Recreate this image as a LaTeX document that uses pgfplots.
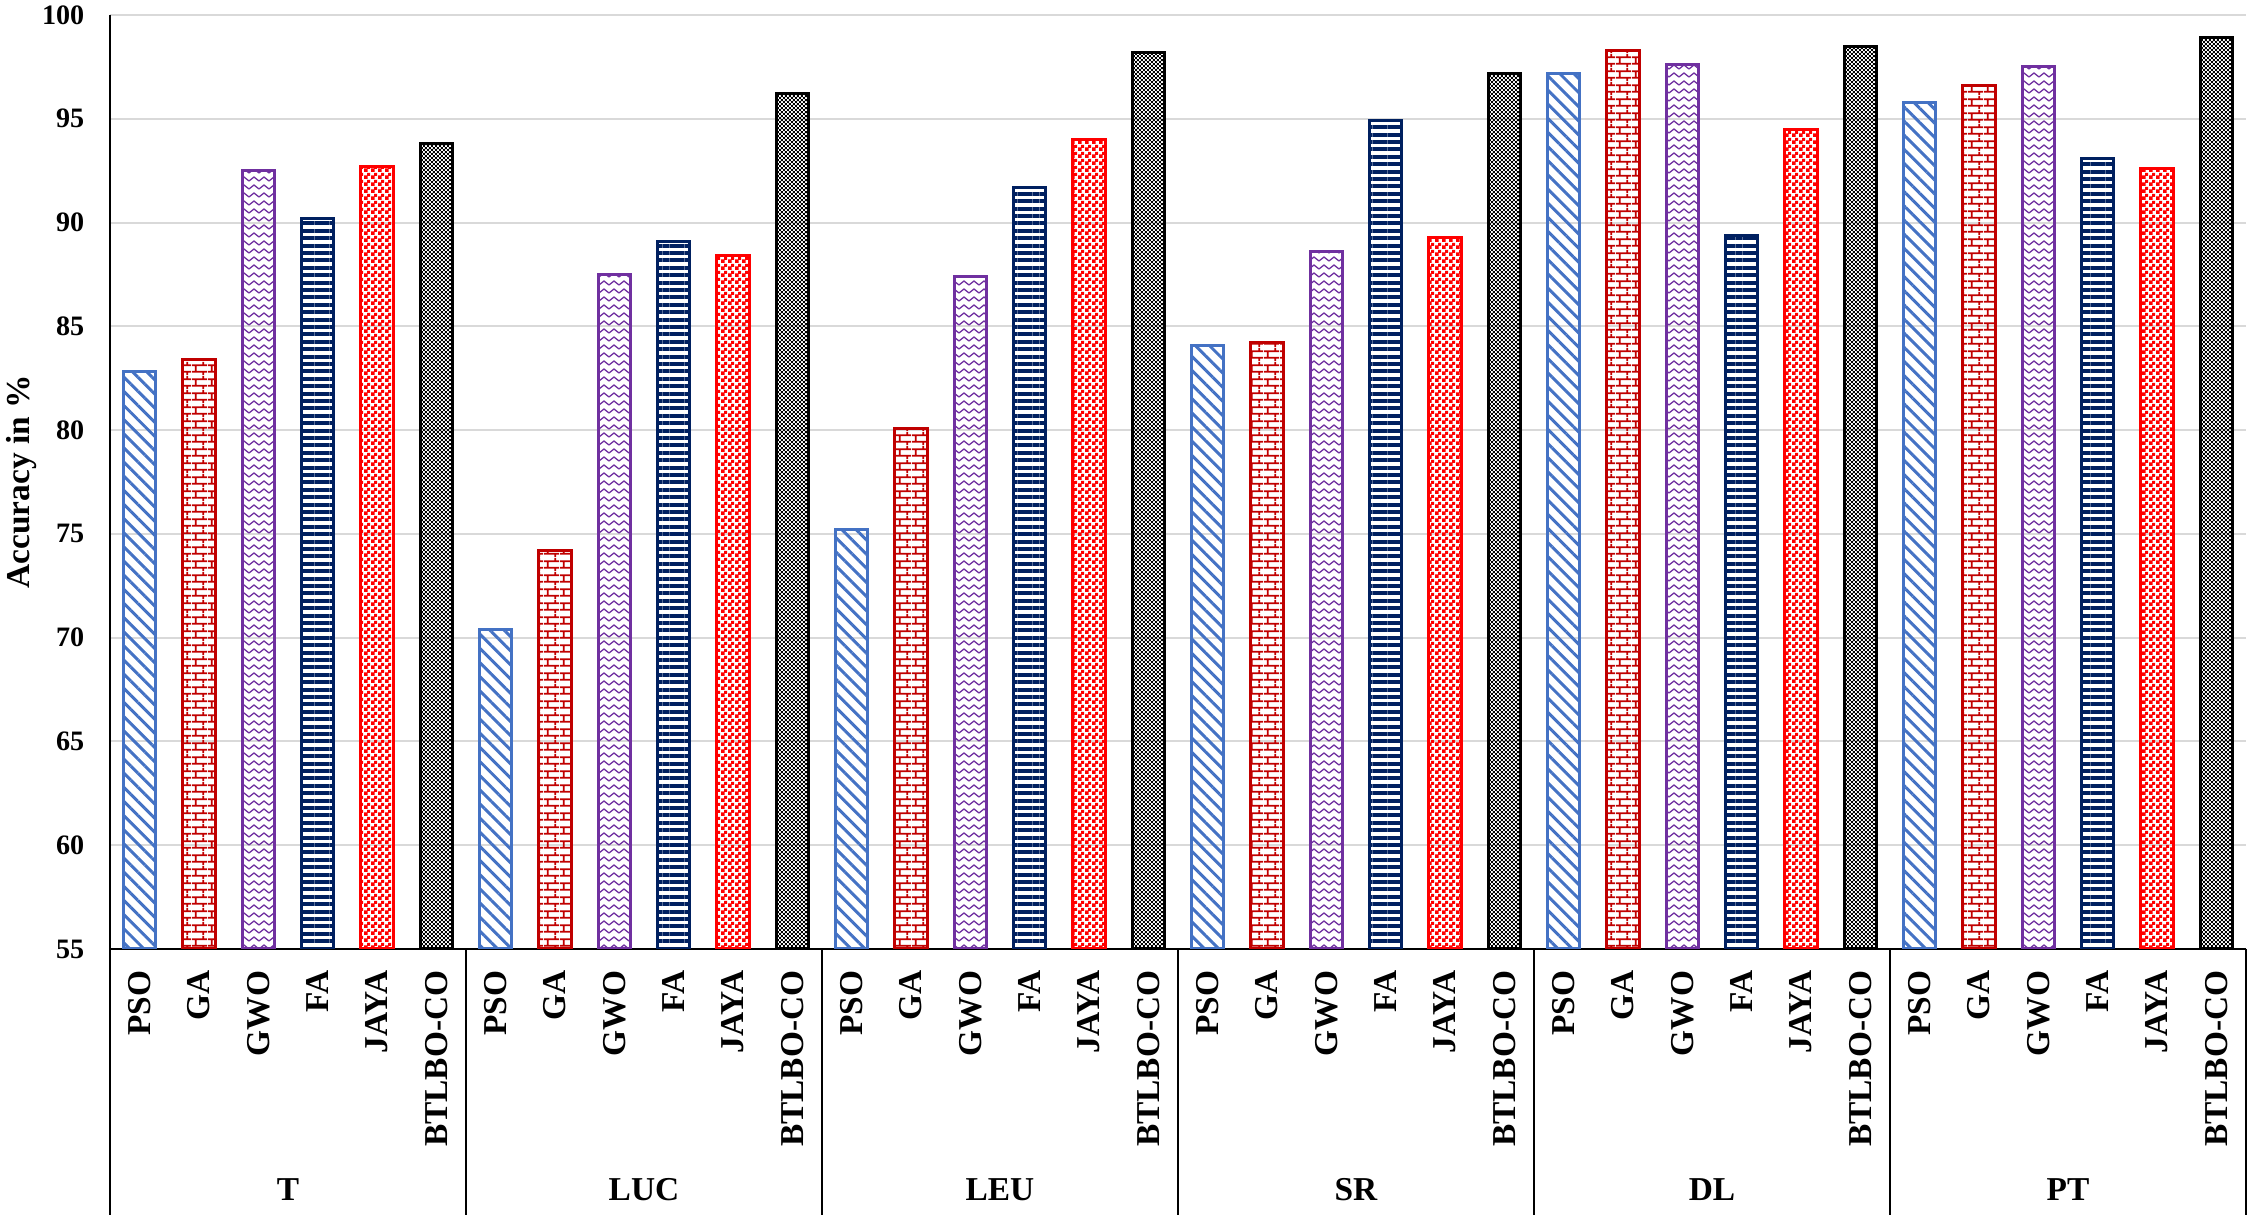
\documentclass[border=0pt]{standalone}
\usepackage{fontspec}
\setmainfont{Liberation Serif}
\usepackage{pgfplots}
\pgfplotsset{compat=1.18}
\usetikzlibrary{patterns,patterns.meta}

\definecolor{psoblue}{HTML}{4472C4}
\definecolor{gared}{HTML}{C00000}
\definecolor{gwopurple}{HTML}{7030A0}
\definecolor{fanavy}{HTML}{002060}
\definecolor{jayared}{HTML}{FF0000}
\definecolor{gridgray}{HTML}{D9D9D9}

% brick pattern for GA
\pgfdeclarepatternformonly{bricksx}{\pgfpointorigin}{\pgfpoint{1.6mm}{1.4mm}}{\pgfpoint{1.6mm}{1.4mm}}{
  \pgfsetlinewidth{0.2mm}
  \pgfpathmoveto{\pgfpoint{0mm}{0.35mm}}\pgfpathlineto{\pgfpoint{1.6mm}{0.35mm}}
  \pgfpathmoveto{\pgfpoint{0mm}{1.05mm}}\pgfpathlineto{\pgfpoint{1.6mm}{1.05mm}}
  \pgfpathmoveto{\pgfpoint{0.4mm}{0.35mm}}\pgfpathlineto{\pgfpoint{0.4mm}{1.05mm}}
  \pgfpathmoveto{\pgfpoint{1.2mm}{1.05mm}}\pgfpathlineto{\pgfpoint{1.2mm}{1.4mm}}
  \pgfpathmoveto{\pgfpoint{1.2mm}{0mm}}\pgfpathlineto{\pgfpoint{1.2mm}{0.35mm}}
  \pgfusepath{stroke}
}
% zigzag for GWO
\pgfdeclarepatternformonly{zigzagx}{\pgfpointorigin}{\pgfpoint{1mm}{0.8mm}}{\pgfpoint{1mm}{0.8mm}}{
  \pgfsetlinewidth{0.13mm}
  \pgfpathmoveto{\pgfpoint{0mm}{0.2mm}}
  \pgfpathlineto{\pgfpoint{0.5mm}{0.6mm}}
  \pgfpathlineto{\pgfpoint{1mm}{0.2mm}}
  \pgfusepath{stroke}
}
% checker for JAYA
\pgfdeclarepatternformonly{checkA}{\pgfpointorigin}{\pgfpoint{0.7mm}{0.7mm}}{\pgfpoint{0.7mm}{0.7mm}}{
  \pgfpathrectangle{\pgfpointorigin}{\pgfpoint{0.4mm}{0.4mm}}
  \pgfpathrectangle{\pgfpoint{0.35mm}{0.35mm}}{\pgfpoint{0.35mm}{0.35mm}}
  \pgfusepath{fill}
}
% fine checker for BTLBO-CO
\pgfdeclarepatternformonly{checkB}{\pgfpointorigin}{\pgfpoint{0.4mm}{0.4mm}}{\pgfpoint{0.4mm}{0.4mm}}{
  \pgfpathrectangle{\pgfpointorigin}{\pgfpoint{0.2mm}{0.2mm}}
  \pgfpathrectangle{\pgfpoint{0.2mm}{0.2mm}}{\pgfpoint{0.2mm}{0.2mm}}
  \pgfusepath{fill}
}

\begin{document}
\begin{tikzpicture}
\useasboundingbox (-11mm,-26.6mm) rectangle (214mm,94.9mm);
\begin{axis}[
  scale only axis,
  width=213.6mm, height=93.4mm,
  xmin=-0.5, xmax=35.5,
  ymin=55, ymax=100,
  ytick={55,60,...,100},
  xtick={0,...,35},
  xticklabels={PSO,GA,GWO,FA,JAYA,BTLBO-CO,PSO,GA,GWO,FA,JAYA,BTLBO-CO,
    PSO,GA,GWO,FA,JAYA,BTLBO-CO,PSO,GA,GWO,FA,JAYA,BTLBO-CO,
    PSO,GA,GWO,FA,JAYA,BTLBO-CO,PSO,GA,GWO,FA,JAYA,BTLBO-CO},
  axis lines=left,
  axis line style={-, line width=0.6pt, black},
  major tick length=0pt,
  ymajorgrids,
  grid style={line width=0.2mm, gridgray},
  clip mode=individual,
  /pgf/number format/assume math mode=true,
  yticklabel style={font=\bfseries\fontsize{8}{9}\selectfont, anchor=east, inner sep=0pt, xshift=-2.5mm},
  xticklabel style={font=\bfseries\fontsize{9.5}{11}\selectfont, yshift=-2.1mm, rotate=90, anchor=east, inner sep=0pt},
  ylabel={Accuracy in \%},
  every axis y label/.style={at={([xshift=-8.8mm]axis description cs:0,0.5)}, rotate=90, anchor=center, font=\bfseries\fontsize{9.5}{11}\selectfont},
  every axis plot/.append style={ybar, bar width=0.54, bar shift=0pt, line width=0.3mm},
]
% PSO
\addplot[draw=psoblue, pattern={Lines[angle=-45,distance=1mm,line width=0.3mm]}, pattern color=psoblue]
  coordinates {(0,82.8) (6,70.4) (12,75.2) (18,84.1) (24,97.2) (30,95.8)};
% GA
\addplot[draw=gared, pattern=bricksx, pattern color=gared]
  coordinates {(1,83.4) (7,74.2) (13,80.1) (19,84.2) (25,98.3) (31,96.6)};
% GWO
\addplot[draw=gwopurple, pattern=zigzagx, pattern color=gwopurple]
  coordinates {(2,92.5) (8,87.5) (14,87.4) (20,88.6) (26,97.6) (32,97.5)};
% FA
\addplot[draw=fanavy, pattern={Lines[angle=0,distance=0.74mm,line width=0.4mm]}, pattern color=fanavy]
  coordinates {(3,90.2) (9,89.1) (15,91.7) (21,94.9) (27,89.4) (33,93.1)};
% JAYA
\addplot[draw=jayared, pattern=checkA, pattern color=jayared]
  coordinates {(4,92.7) (10,88.4) (16,94.0) (22,89.3) (28,94.5) (34,92.6)};
% BTLBO-CO
\addplot[draw=black, pattern=checkB, pattern color=black]
  coordinates {(5,93.8) (11,96.2) (17,98.2) (23,97.2) (29,98.5) (35,98.9)};

\pgfplotsinvokeforeach{0,...,6}{
  \draw[line width=0.6pt] (axis cs:{6*#1-0.5},55) -- ++(0pt,-26.6mm);
}
\tikzset{grp/.style={font=\bfseries\fontsize{9.5}{11}\selectfont, yshift=-24.1mm}}
\node[grp] at (axis cs:2.5,55) {T};
\node[grp] at (axis cs:8.5,55) {LUC};
\node[grp] at (axis cs:14.5,55) {LEU};
\node[grp] at (axis cs:20.5,55) {SR};
\node[grp] at (axis cs:26.5,55) {DL};
\node[grp] at (axis cs:32.5,55) {PT};
\end{axis}
\end{tikzpicture}
\end{document}
